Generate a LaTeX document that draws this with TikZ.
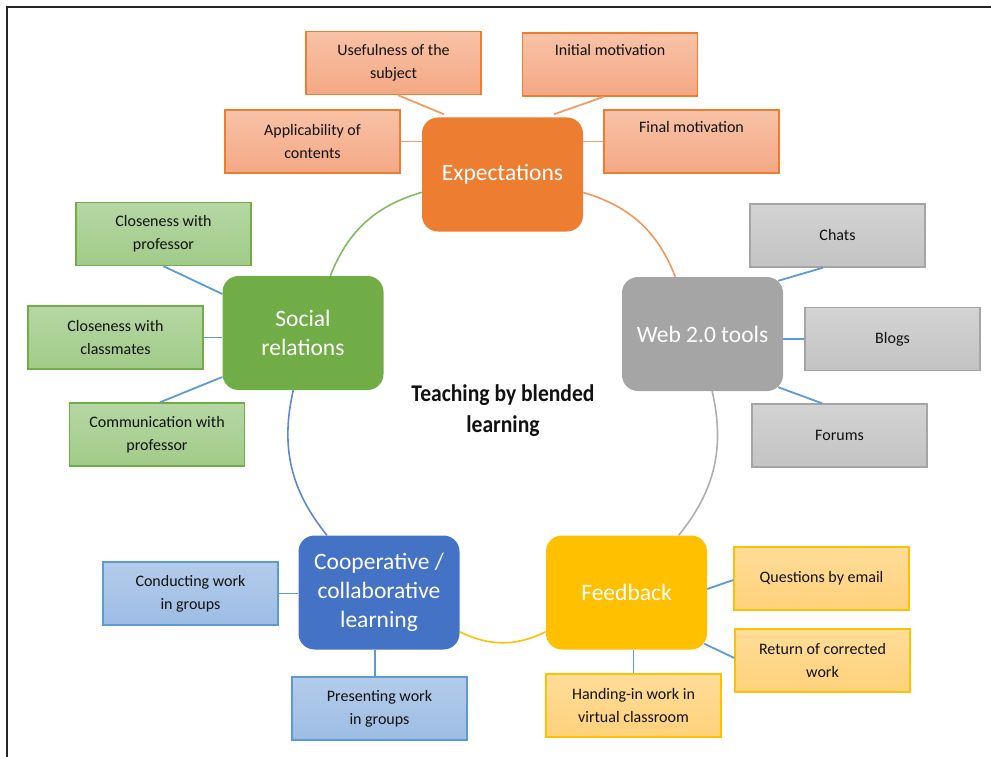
\documentclass[tikz,border=0pt]{standalone}
\usepackage{fontspec}
\setmainfont{Carlito}
\newfontfamily\titlefont{Carlito}[FakeStretch=0.9]
\usetikzlibrary{calc}
\definecolor{cOr}{HTML}{ED7D31}
\definecolor{cGr}{HTML}{70AD47}
\definecolor{cGy}{HTML}{A5A5A5}
\definecolor{cBl}{HTML}{4472C4}
\definecolor{cGd}{HTML}{FFC000}
\definecolor{orTop}{HTML}{F8C2A7}
\definecolor{orBot}{HTML}{F4A884}
\definecolor{grTop}{HTML}{B6D7A4}
\definecolor{grBot}{HTML}{A1CB89}
\definecolor{gyTop}{HTML}{D3D3D3}
\definecolor{gyBot}{HTML}{C3C3C3}
\definecolor{blTop}{HTML}{B4CBEA}
\definecolor{blBot}{HTML}{9DBDE4}
\definecolor{gdTop}{HTML}{FFDC98}
\definecolor{gdBot}{HTML}{FFD27B}
\definecolor{spokeBlue}{HTML}{5B9BD5}
\definecolor{txt}{HTML}{111111}
\begin{document}
\begin{tikzpicture}[x=1pt,y=1pt,
  mainbox/.style={rounded corners=16pt, minimum width=161pt, minimum height=114pt,
    inner sep=0pt, text=white, align=center, font=\fontsize{23.5}{29}\selectfont},
  subbox/.style={minimum width=175pt, minimum height=63pt, inner sep=0pt, align=center,
    text=txt, font=\fontsize{16}{23}\selectfont, line width=1.4pt},
  orsub/.style={subbox, draw=cOr, top color=orTop, bottom color=orBot},
  grsub/.style={subbox, draw=cGr, top color=grTop, bottom color=grBot},
  gysub/.style={subbox, draw=cGy, top color=gyTop, bottom color=gyBot},
  blsub/.style={subbox, draw=spokeBlue, top color=blTop, bottom color=blBot},
  gdsub/.style={subbox, draw=cGd, top color=gdTop, bottom color=gdBot},
  spoke/.style={line width=1.8pt, draw=spokeBlue},
  orspoke/.style={line width=1.8pt, draw=cOr!75},
  cyc/.style={line width=1.6pt},
  frameline/.style={line width=1.4pt, draw=black!85}
]
\useasboundingbox (0,0) rectangle (991,-757);
\draw[frameline] (991,-7) -- (7,-7) -- (7,-757);

% main nodes
\node[mainbox, fill=cOr] (exp) at (502.5,-174.5) {Expectations};
\node[mainbox, fill=cGy] (web) at (702.5,-334) {Web 2.0 tools};
\node[mainbox, fill=cGr] (soc) at (303,-333) {Social\\relations};
\node[mainbox, fill=cBl] (coop) at (379,-592.5) {Cooperative /\\collaborative\\learning};
\node[mainbox, fill=cGd] (fb) at (626.5,-592.5) {Feedback};

\node[font=\titlefont\bfseries\fontsize{24}{31}\selectfont, align=center, text=txt] (title) at (503,-411) {Teaching by blended\\learning};

% cycle arcs
\draw[cyc, cOr!80] (exp) to[bend left=26] (web);
\draw[cyc, cGy!90] (web) to[bend left=26] (fb);
\draw[cyc, cGd] (fb) to[bend left=26] (coop);
\draw[cyc, cBl!85] (coop) to[bend left=26] (soc);
\draw[cyc, cGr!85] (soc) to[bend left=26] (exp);

% Expectations children
\node[orsub] (use) at (393.5,-63) {Usefulness of the\\subject};
\node[orsub] (ini) at (610,-64.5) {Initial motivation\\\strut};
\node[orsub] (app) at (312.5,-141.5) {Applicability of\\contents};
\node[orsub] (fin) at (691.5,-141.5) {Final motivation\\\strut};
\draw[orspoke] ($(use.south)+(4.5,0)$) -- ($(exp.north)+(-58.5,3)$);
\draw[orspoke] ($(ini.south)+(-6,0)$) -- ($(exp.north)+(51.5,3)$);
\draw[orspoke] (app.east) -- (app.east -| exp.west);
\draw[orspoke] (fin.west) -- (fin.west -| exp.east);

% Web 2.0 children
\node[gysub] (chats) at (837.5,-235.5) {Chats};
\node[gysub] (blogs) at (892.5,-339) {Blogs};
\node[gysub] (forums) at (839.5,-435.5) {Forums};
\draw[spoke] ($(web.north east)+(-5,-4)$) -- ($(chats.south)+(-14.5,0)$);
\draw[spoke] (blogs.west) -- (blogs.west -| web.east);
\draw[spoke] ($(web.south east)+(-5,4)$) -- ($(forums.north)+(-17.5,0)$);

% Social relations children
\node[grsub] (cprof) at (163.5,-234) {Closeness with\\professor};
\node[grsub] (cclass) at (115.5,-337.5) {Closeness with\\classmates};
\node[grsub] (comm) at (157,-434.5) {Communication with\\professor};
\draw[spoke] (cprof.south) -- ($(soc.west)+(0,39)$);
\draw[spoke] (cclass.east) -- (cclass.east -| soc.west);
\draw[spoke] ($(soc.west)+(0,-44)$) -- ($(comm.north)+(3,0)$);

% Cooperative children
\node[blsub] (cond) at (190.5,-593.5) {Conducting work\\in groups};
\node[blsub] (pres) at (379.5,-708.5) {Presenting work\\in groups};
\draw[spoke] (cond.east) -- (cond.east -| coop.west);
\draw[spoke] ($(pres.north)+(-4.5,0)$) -- ($(coop.south)+(-4,0)$);

% Feedback children
\node[gdsub] (ques) at (821.5,-578.5) {Questions by email};
\node[gdsub] (ret) at (822.5,-660.5) {Return of corrected\\work};
\node[gdsub] (hand) at (633.5,-705.5) {Handing-in work in\\virtual classroom};
\draw[spoke] ($(fb.east)+(0,3.5)$) -- ($(ques.west)+(0,-1.5)$);
\draw[spoke] ($(fb.south east)+(-3,6)$) -- ($(ret.west)+(0,2.5)$);
\draw[spoke] (hand.north) -- (hand.north |- fb.south);
\end{tikzpicture}
\end{document}
